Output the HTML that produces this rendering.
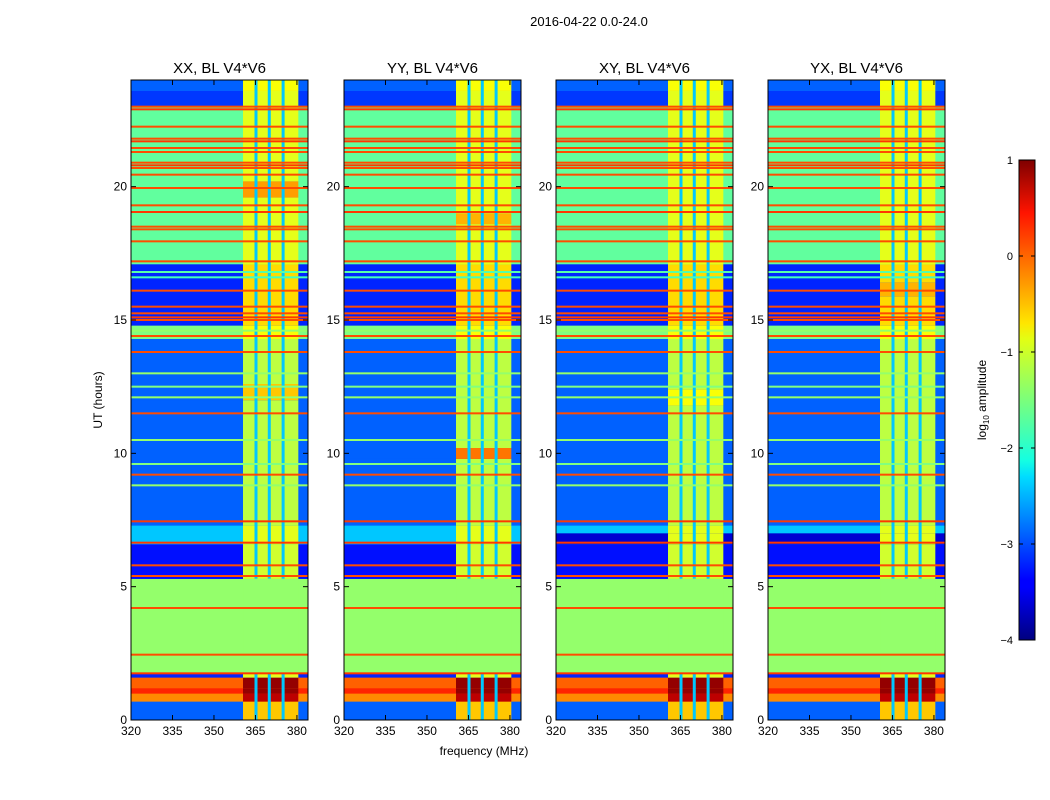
<!DOCTYPE html>
<html><head><meta charset="utf-8"><style>
body{margin:0;background:#fff;width:1050px;height:800px;overflow:hidden;font-family:"Liberation Sans",sans-serif}
svg{display:block}
text{font-family:"Liberation Sans","DejaVu Sans",sans-serif}
</style></head><body>
<svg id="fig" width="1050" height="800" xmlns="http://www.w3.org/2000/svg">
<defs>
<linearGradient id="jet" x1="0" y1="1" x2="0" y2="0">
<stop offset="0" stop-color="#00007f"/><stop offset="0.11" stop-color="#0000ff"/><stop offset="0.125" stop-color="#0000ff"/>
<stop offset="0.34" stop-color="#00dcff"/><stop offset="0.375" stop-color="#15ffe1"/><stop offset="0.5" stop-color="#7bff7b"/>
<stop offset="0.625" stop-color="#e1ff15"/><stop offset="0.66" stop-color="#ffe600"/><stop offset="0.89" stop-color="#ff1400"/>
<stop offset="1" stop-color="#7f0000"/></linearGradient>
</defs>
<text x="589" y="26" font-size="13" text-anchor="middle">2016-04-22 0.0-24.0</text>
<text x="484" y="755" font-size="12" text-anchor="middle">frequency (MHz)</text>
<text transform="translate(102,400) rotate(-90)" font-size="12" text-anchor="middle">UT (hours)</text>
<g id="panels"></g>
<g id="cbar">
<rect x="1019" y="160" width="16" height="480" fill="url(#jet)" stroke="#000" stroke-width="1"/>
<text transform="translate(986,400) rotate(-90)" font-size="12" text-anchor="middle">log<tspan font-size="8" dy="3">10</tspan><tspan dy="-3"> amplitude</tspan></text>
</g>
</svg>
<script>
// ---- data ----
const panelTitles = ["XX, BL V4*V6","YY, BL V4*V6","XY, BL V4*V6","YX, BL V4*V6"];
const xTicks = [320,335,350,365,380];
const yTicks = [0,5,10,15,20];
const cbTicks = [1,0,-1,-2,-3,-4];
// time bands: [startHour, endHour, offBandLevel, inBandLevel]
const timeBands = [
 [0,0.7,-2.9,-0.6],[0.7,1.0,-0.3,0.7],[1.0,1.2,0.2,0.9],[1.2,1.6,-0.1,0.9],[1.6,1.75,-3.2,-1.0],
 [1.75,5.3,-1.4,-1.4],[5.3,6.6,-3.3,-1.1],[6.6,7.3,-2.4,-1.0],[7.3,14.3,-2.9,-1.2],
 [14.3,14.8,-1.5,-0.9],[14.8,17.1,-3.2,-0.7],[17.1,23.0,-1.65,-1.0],[23.0,23.6,-3.1,-1.0],[23.6,24,-2.9,-0.9]
];
// variant tweaks per panel: [startHour,endHour,offLevel,inLevel]
const panelExtras = [
 [[12.0,12.6,-2.9,-0.6],[19.6,20.2,-1.65,-0.4]],
 [[9.8,10.2,-2.9,-0.2],[18.6,19.0,-1.65,-0.5]],
 [[6.6,7.0,-3.6,-1.0],[11.8,12.4,-2.9,-0.9]],
 [[6.6,7.0,-3.6,-1.0],[15.9,16.4,-3.2,-0.5]]
];
// horizontal RFI lines: [hour, level]
const lineHours = [23.0,22.9,22.25,21.8,21.7,21.45,21.3,20.9,20.8,20.7,20.45,19.95,19.3,19.05,18.5,18.4,17.95,17.2,16.1,15.5,15.25,15.1,15.0,14.4,13.8,11.5,9.2,7.45,6.65,5.8,5.4,4.2,2.45,1.75];
const lineLevels = [0.0,0.1,0.0,0.0,0.1,0.0,0.0,0.0,0.1,0.0,0.0,0.0,0.0,0.1,0.0,0.0,0.0,0.0,0.0,0.0,0.0,0.1,0.0,0.0,0.0,0.0,0.0,0.1,0.1,0.0,0.0,0.0,0.0,0.1];
const greenHours = [13.0,12.5,12.1,10.5,9.6,8.8,16.6,16.8,14.6];
const greenLevels = [-1.4,-1.5,-1.4,-1.4,-1.5,-1.4,-1.8,-1.7,-1.4];
const bandEdges = [360.5,380.5];
const gapFreqs = [365.2,370.0,375.0];
const gapLevel = -2.4;
const cbMin=-4, cbMax=1;

// ---- helpers ----
function jet(v){
 let t=Math.max(0,Math.min(1,(v-cbMin)/(cbMax-cbMin)));
 const r=Math.min(4*t-1.5,-4*t+4.5),g=Math.min(4*t-0.5,-4*t+3.5),b=Math.min(4*t+0.5,-4*t+2.5);
 const c=x=>Math.round(255*Math.max(0,Math.min(1,x)));
 return `rgb(${c(r)},${c(g)},${c(b)})`;
}
const NS="http://www.w3.org/2000/svg";
function mk(tag,attrs,parent){const e=document.createElementNS(NS,tag);for(const k in attrs)e.setAttribute(k,attrs[k]);parent.appendChild(e);return e;}
const panelX=[131,344,556,768], PW=177, PT=80, PB=720;
const fMin=320,fMax=384,hMin=0,hMax=24;
const panelsG=document.getElementById('panels');

panelTitles.forEach((title,p)=>{
 const x0=panelX[p];
 const X=f=>x0+(f-fMin)/(fMax-fMin)*PW;
 const Y=h=>PB-(h-hMin)/(hMax-hMin)*(PB-PT);
 const g=mk('g',{},panelsG);
 
 
 const bands=timeBands.concat(panelExtras[p]);
 bands.forEach(b=>{
  const r1=mk('rect',{x:X(fMin),y:Y(b[1]),width:PW,height:Y(b[0])-Y(b[1])+0.3,fill:jet(b[2])},g);
  
  
  const r2=mk('rect',{x:X(bandEdges[0]),y:Y(b[1]),width:X(bandEdges[1])-X(bandEdges[0]),height:Y(b[0])-Y(b[1])+0.3,fill:jet(b[3])},g);
  
  
 });
 gapFreqs.forEach(f=>{
  [[0,1.75],[5.3,24]].forEach(seg=>{
   const r=mk('rect',{x:X(f)-1.5,y:Y(seg[1]),width:3,height:Y(seg[0])-Y(seg[1]),fill:jet(gapLevel)},g);
   
   
  });
 });
 greenHours.forEach((h,i)=>{
  const r=mk('rect',{x:X(fMin),y:Y(h)-1,width:PW,height:2,fill:jet(greenLevels[i])},g);
  
  
 });
 lineHours.forEach((h,i)=>{
  const r=mk('rect',{x:X(fMin),y:Y(h)-1,width:PW,height:2,fill:jet(lineLevels[i])},g);
  
  
 });
 const fr=mk('rect',{x:x0,y:PT,width:PW,height:PB-PT,fill:'none',stroke:'#000','stroke-width':1},g);
 
 
 const t=mk('text',{x:x0+PW/2,y:73,'font-size':15,'text-anchor':'middle'},g);
 t.textContent=title;
 
 
 xTicks.forEach(f=>{
  mk('line',{x1:X(f),x2:X(f),y1:PB,y2:PB-5,stroke:'#000'},g);
  mk('line',{x1:X(f),x2:X(f),y1:PT,y2:PT+5,stroke:'#000'},g);
  const l=mk('text',{x:X(f),y:PB+15,'font-size':12,'text-anchor':'middle'},g);
  l.textContent=f;
  
  
 });
 yTicks.forEach(h=>{
  mk('line',{x1:x0,x2:x0+5,y1:Y(h),y2:Y(h),stroke:'#000'},g);
  mk('line',{x1:x0+PW,x2:x0+PW-5,y1:Y(h),y2:Y(h),stroke:'#000'},g);
  const l=mk('text',{x:x0-4,y:Y(h)+4,'font-size':12,'text-anchor':'end'},g);
  l.textContent=h;
  
  
 });
});
const cb=document.getElementById('cbar');
cbTicks.forEach(v=>{
 const y=640-(v-cbMin)/(cbMax-cbMin)*480;
 mk('line',{x1:1019,x2:1023,y1:y,y2:y,stroke:'#000'},cb);
 mk('line',{x1:1035,x2:1031,y1:y,y2:y,stroke:'#000'},cb);
 const l=mk('text',{x:1013,y:y+4,'font-size':11,'text-anchor':'end'},cb);
 l.textContent=v<0?'\u2212'+(-v):String(v);
 
 
});
</script>
</body></html>
